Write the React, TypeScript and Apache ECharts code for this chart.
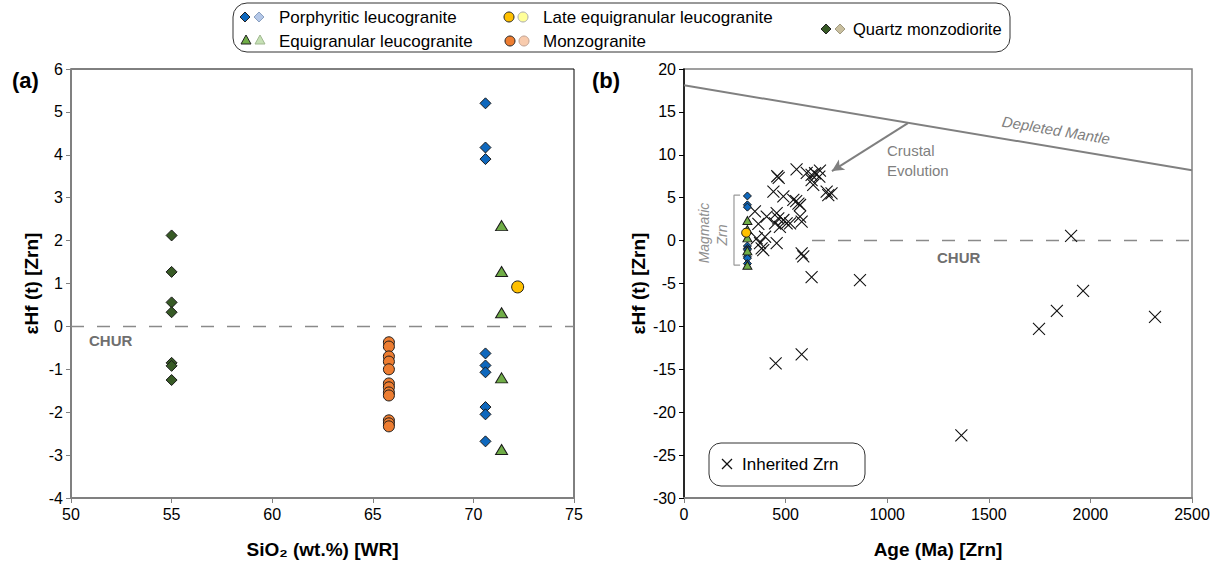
import React, { useEffect, useRef } from "react";
import * as echarts from "echarts";

// ---------- Panel (a): SiO2 vs eHf ----------
const porphyriticSiO2 = 70.6;
const porphyriticHf = [5.2, 4.17, 3.9, -0.63, -0.91, -1.07, -1.88, -2.05, -2.68];
const equigranularSiO2 = 71.4;
const equigranularHf = [2.35, 1.28, 0.32, -1.2, -2.87];
const lateEquiSiO2 = 72.2;
const lateEquiHf = [0.92];
const monzograniteSiO2 = 65.8;
const monzograniteHf = [-0.37, -0.47, -0.7, -0.82, -1.0, -1.33, -1.42, -1.54, -1.61, -2.19, -2.26, -2.33];
const quartzMonzSiO2 = 55;
const quartzMonzHf = [2.12, 1.27, 0.56, 0.33, -0.85, -0.92, -1.25];
const churSiO2 = [50, 75];

// ---------- Panel (b): Age vs eHf ----------
const magmaticAge = 312;
const lateEquiAge = 306;
const inheritedAge = [
  554, 604, 628, 645, 669, 666, 459, 466, 628, 636, 440, 489, 538, 552, 571, 702, 726, 710,
  349, 407, 456, 464, 489, 522, 571, 579, 366, 448, 472, 399, 358, 374, 382, 390, 456, 579,
  587, 628, 866, 451, 579, 505, 563, 1905, 1964, 1835, 1747, 2318, 1365,
];
const inheritedHf = [
  8.3, 7.9, 7.65, 7.85, 8.15, 7.45, 7.5, 7.3, 7.05, 6.5, 5.7, 5.15, 4.75, 4.6, 4.15, 5.7, 5.5, 5.3,
  3.4, 2.8, 3.2, 2.6, 2.4, 2.0, 2.8, 2.2, 1.95, 2.0, 1.6, 0.45, 0.25, -0.3, -0.9, -1.1, -0.3, -1.5,
  -1.85, -4.25, -4.6, -14.3, -13.25, 2.0, 4.3, 0.55, -5.85, -8.2, -10.3, -8.9, -22.7,
];
const dmAge = [0, 2500];
const dmHf = [18.1, 8.2];
const churAge = [630, 2500];
const arrowAge = [1102, 728];
const arrowHf = [13.7, 8.1];
const bracketAge = [276, 246, 246, 276];
const bracketHf = [5.3, 5.3, -2.85, -2.85];

// ticks
const siTicks = { min: 50, max: 75, interval: 5 };
const hfTicksA = { min: -4, max: 6, interval: 1 };
const ageTicks = { min: 0, max: 2500, interval: 500 };
const hfTicksB = { min: -30, max: 20, interval: 5 };

const C = {
  porph: "#0f68bd",
  porphL: "#b4c7e7",
  equi: "#70ad47",
  equiL: "#c5e0b4",
  late: "#ffc000",
  lateL: "#ffff99",
  monzo: "#ed7d31",
  monzoL: "#f8cbad",
  qm: "#375a25",
  qmL: "#c9bf9f",
  grey: "#7f7f7f",
};

const FONT = "'Liberation Sans', Arial, sans-serif";
const CROSS = "path://M0,0L10,10M10,0L0,10";

function diamondPts(cx: number, cy: number, r: number) {
  return [[cx, cy - r], [cx + r, cy], [cx, cy + r], [cx - r, cy]];
}
function trianglePts(cx: number, cy: number, r: number) {
  return [[cx, cy - r], [cx + r, cy + r * 0.8], [cx - r, cy + r * 0.8]];
}

export default function App() {
  const ref = useRef<HTMLDivElement>(null);
  useEffect(() => {
    if (!ref.current) return;
    const chart = echarts.init(ref.current, undefined, { renderer: "svg" });

    const axisBase = (grey: boolean) => ({
      type: "value" as const,
      splitLine: { show: false },
      axisLine: { show: true, onZero: false, lineStyle: { color: grey ? "#808080" : "#000", width: grey ? 2 : 1.5 } },
      axisTick: { show: true, length: 5, lineStyle: { color: grey ? "#808080" : "#000", width: 1 } },
      axisLabel: { color: "#000", fontSize: 16, margin: 8, fontFamily: FONT, formatter: (v: number) => String(v) },
      nameLocation: "middle" as const,
      nameTextStyle: { color: "#000", fontSize: 19, fontWeight: "bold" as const, fontFamily: FONT },
    });

    const markerItem = (color: string) => ({ color, borderColor: "#1a1a1a", borderWidth: 1, opacity: 1 });

    const legendItems: any[] = [];
    const lg = (el: any) => legendItems.push(el);
    lg({ type: "rect", shape: { x: 233, y: 3, width: 777, height: 49, r: 14 }, style: { fill: "#fff", stroke: "#333", lineWidth: 1 } });
    const txt = (x: number, y: number, t: string, size = 17) =>
      lg({ type: "text", x, y, style: { text: t, fill: "#000", font: `${size}px ${FONT}`, verticalAlign: "middle", textVerticalAlign: "middle" } });
    // row 1
    lg({ type: "polygon", shape: { points: diamondPts(245, 17, 5) }, style: { fill: C.porph, stroke: "#222", lineWidth: 1 } });
    lg({ type: "polygon", shape: { points: diamondPts(259, 17, 5) }, style: { fill: C.porphL, stroke: "#8aa0c0", lineWidth: 1 } });
    txt(279, 17, "Porphyritic leucogranite");
    lg({ type: "circle", shape: { cx: 509, cy: 17, r: 5 }, style: { fill: C.late, stroke: "#222", lineWidth: 1 } });
    lg({ type: "circle", shape: { cx: 523, cy: 17, r: 5 }, style: { fill: C.lateL, stroke: "#aaa", lineWidth: 1 } });
    txt(543, 17, "Late equigranular leucogranite");
    // row 2
    lg({ type: "polygon", shape: { points: trianglePts(246, 40, 5) }, style: { fill: C.equi, stroke: "#222", lineWidth: 1 } });
    lg({ type: "polygon", shape: { points: trianglePts(260, 40, 5) }, style: { fill: C.equiL, stroke: "#a0b890", lineWidth: 1 } });
    txt(279, 41, "Equigranular leucogranite");
    lg({ type: "circle", shape: { cx: 510, cy: 41, r: 5 }, style: { fill: C.monzo, stroke: "#222", lineWidth: 1 } });
    lg({ type: "circle", shape: { cx: 524, cy: 41, r: 5 }, style: { fill: C.monzoL, stroke: "#c0a090", lineWidth: 1 } });
    txt(543, 41, "Monzogranite");
    // col 3
    lg({ type: "polygon", shape: { points: diamondPts(826, 29, 5) }, style: { fill: C.qm, stroke: "#222", lineWidth: 1 } });
    lg({ type: "polygon", shape: { points: diamondPts(840, 29, 5) }, style: { fill: C.qmL, stroke: "#a09a80", lineWidth: 1 } });
    txt(853, 29, "Quartz monzodiorite", 16.5);

    const annotations: any[] = [
      { type: "text", x: 12, y: 80, style: { text: "(a)", fill: "#000", font: `bold 22px ${FONT}`, verticalAlign: "middle", textVerticalAlign: "middle" } },
      { type: "text", x: 592, y: 80, style: { text: "(b)", fill: "#000", font: `bold 22px ${FONT}`, verticalAlign: "middle", textVerticalAlign: "middle" } },
      { type: "text", x: 89, y: 340, style: { text: "CHUR", fill: "#6f6f6f", font: `bold 15px ${FONT}`, verticalAlign: "middle", textVerticalAlign: "middle" } },
      { type: "text", x: 937, y: 257, style: { text: "CHUR", fill: "#6f6f6f", font: `bold 15px ${FONT}`, verticalAlign: "middle", textVerticalAlign: "middle" } },
      {
        type: "text", x: 1056, y: 130, rotation: -0.165,
        style: { text: "Depleted Mantle", fill: "#7f7f7f", font: `italic 15px ${FONT}`, align: "center", textAlign: "center", verticalAlign: "middle", textVerticalAlign: "middle" },
      },
      { type: "text", x: 887, y: 150, style: { text: "Crustal", fill: "#7f7f7f", font: `15px ${FONT}`, verticalAlign: "middle", textVerticalAlign: "middle" } },
      { type: "text", x: 887, y: 170, style: { text: "Evolution", fill: "#7f7f7f", font: `15px ${FONT}`, verticalAlign: "middle", textVerticalAlign: "middle" } },
      {
        type: "text", x: 704, y: 233, rotation: Math.PI / 2,
        style: { text: "Magmatic", fill: "#8f8f8f", font: `italic 14px ${FONT}`, align: "center", textAlign: "center", verticalAlign: "middle", textVerticalAlign: "middle" },
      },
      {
        type: "text", x: 722, y: 235, rotation: Math.PI / 2,
        style: { text: "Zrn", fill: "#8f8f8f", font: `italic 14px ${FONT}`, align: "center", textAlign: "center", verticalAlign: "middle", textVerticalAlign: "middle" },
      },
      // inherited legend
      { type: "rect", shape: { x: 709, y: 443, width: 156, height: 43, r: 12 }, style: { fill: "#fff", stroke: "#333", lineWidth: 1 } },
      { type: "line", shape: { x1: 722, y1: 459, x2: 732, y2: 469 }, style: { stroke: "#111", lineWidth: 1.2 } },
      { type: "line", shape: { x1: 732, y1: 459, x2: 722, y2: 469 }, style: { stroke: "#111", lineWidth: 1.2 } },
      { type: "text", x: 742, y: 464, style: { text: "Inherited Zrn", fill: "#000", font: `17px ${FONT}`, verticalAlign: "middle", textVerticalAlign: "middle" } },
    ];

    const option: any = {
      animation: false,
      textStyle: { fontFamily: FONT },
      grid: [
        { left: 71, top: 69, width: 503, height: 429, show: true, borderColor: "#000", borderWidth: 1, backgroundColor: "transparent" },
        { left: 684, top: 69, width: 508, height: 429, show: true, borderColor: "#808080", borderWidth: 1.5, backgroundColor: "transparent" },
      ],
      xAxis: [
        { ...axisBase(true), gridIndex: 0, ...siTicks, name: "SiO₂ (wt.%) [WR]", nameGap: 42 },
        { ...axisBase(true), gridIndex: 1, ...ageTicks, name: "Age (Ma) [Zrn]", nameGap: 42 },
      ],
      yAxis: [
        { ...axisBase(true), gridIndex: 0, ...hfTicksA, name: "εHf (t) [Zrn]", nameGap: 30, nameRotate: 90 },
        { ...axisBase(false), gridIndex: 1, ...hfTicksB, name: "εHf (t) [Zrn]", nameGap: 36, nameRotate: 90 },
      ],
      series: [
        // ----- panel a -----
        {
          type: "line", xAxisIndex: 0, yAxisIndex: 0, symbol: "none", silent: true, z: 1,
          data: churSiO2.map((x) => [x, 0]),
          lineStyle: { color: "#8a8a8a", width: 1.5, type: [13, 13] },
        },
        {
          type: "scatter", xAxisIndex: 0, yAxisIndex: 0, symbol: "diamond", symbolSize: [11, 11],
          data: quartzMonzHf.map((v) => [quartzMonzSiO2, v]), itemStyle: markerItem(C.qm),
        },
        {
          type: "scatter", xAxisIndex: 0, yAxisIndex: 0, symbol: "circle", symbolSize: 11,
          data: monzograniteHf.map((v) => [monzograniteSiO2, v]), itemStyle: markerItem(C.monzo),
        },
        {
          type: "scatter", xAxisIndex: 0, yAxisIndex: 0, symbol: "diamond", symbolSize: [11, 11],
          data: porphyriticHf.map((v) => [porphyriticSiO2, v]), itemStyle: markerItem(C.porph),
        },
        {
          type: "scatter", xAxisIndex: 0, yAxisIndex: 0, symbol: "triangle", symbolSize: [12, 10],
          data: equigranularHf.map((v) => [equigranularSiO2, v]), itemStyle: markerItem(C.equi),
        },
        {
          type: "scatter", xAxisIndex: 0, yAxisIndex: 0, symbol: "circle", symbolSize: 12,
          data: lateEquiHf.map((v) => [lateEquiSiO2, v]), itemStyle: markerItem(C.late),
        },
        // ----- panel b -----
        {
          type: "line", xAxisIndex: 1, yAxisIndex: 1, symbol: "none", silent: true, z: 1,
          data: dmAge.map((a, i) => [a, dmHf[i]]),
          lineStyle: { color: "#808080", width: 2 },
          markLine: {
            silent: true, symbol: ["none", "arrow"], symbolSize: [9, 12],
            lineStyle: { color: "#7f7f7f", width: 2, type: "solid" },
            label: { show: false },
            data: [[{ coord: [arrowAge[0], arrowHf[0]] }, { coord: [arrowAge[1], arrowHf[1]] }]],
          },
        },
        {
          type: "line", xAxisIndex: 1, yAxisIndex: 1, symbol: "none", silent: true, z: 1,
          data: churAge.map((a) => [a, 0]),
          lineStyle: { color: "#8a8a8a", width: 1.5, type: [13, 13] },
        },
        {
          type: "line", xAxisIndex: 1, yAxisIndex: 1, symbol: "none", silent: true, z: 1,
          data: bracketAge.map((a, i) => [a, bracketHf[i]]),
          lineStyle: { color: "#999", width: 1.2 },
        },
        {
          type: "scatter", xAxisIndex: 1, yAxisIndex: 1, symbol: CROSS, symbolSize: 12,
          data: inheritedAge.map((a, i) => [a, inheritedHf[i]]),
          itemStyle: { color: "rgba(0,0,0,0)", borderColor: "#111", borderWidth: 1.1, opacity: 1 },
        },
        {
          type: "scatter", xAxisIndex: 1, yAxisIndex: 1, symbol: "diamond", symbolSize: [8, 8],
          data: porphyriticHf.map((v) => [magmaticAge, v]), itemStyle: markerItem(C.porph),
        },
        {
          type: "scatter", xAxisIndex: 1, yAxisIndex: 1, symbol: "triangle", symbolSize: [9, 8],
          data: equigranularHf.map((v) => [magmaticAge, v]), itemStyle: markerItem(C.equi),
        },
        {
          type: "scatter", xAxisIndex: 1, yAxisIndex: 1, symbol: "circle", symbolSize: 9,
          data: lateEquiHf.map((v) => [lateEquiAge, v]), itemStyle: markerItem(C.late),
        },
      ],
      graphic: [...legendItems, ...annotations],
    };

    chart.setOption(option);
    return () => chart.dispose();
  }, []);

  return (
    <div
      ref={ref}
      style={{ position: "fixed", left: 0, top: 0, width: 1219, height: 572, background: "#fff" }}
    />
  );
}
